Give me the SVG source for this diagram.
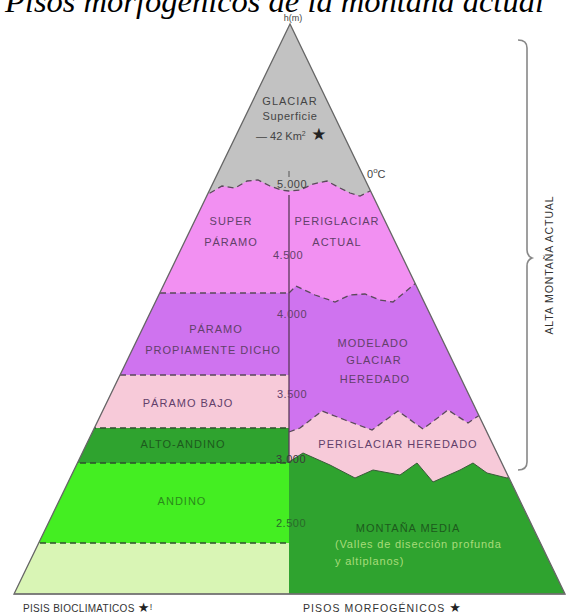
<svg xmlns="http://www.w3.org/2000/svg" width="566" height="616" viewBox="0 0 566 616">
<style>
.t{font-family:"Liberation Sans",Arial,sans-serif;font-size:11px;text-anchor:middle;letter-spacing:1px}
.p{fill:#62406a}
.k{fill:#444444}
.gd{fill:#1d5a1d}
.n{font-size:11px;letter-spacing:0.5px}
.d{fill:none;stroke:#5a4a5a;stroke-width:1.3;stroke-dasharray:6 4}
.dg{fill:none;stroke:#2f4f2f;stroke-width:1.3;stroke-dasharray:6 4}
.star{font-family:"DejaVu Sans",sans-serif}
</style>
<defs>
<clipPath id="tri"><polygon points="290,24 14,594 565,594"/></clipPath>
</defs>
<rect width="566" height="616" fill="#ffffff"/>
<text x="5" y="12" font-family="Liberation Serif, serif" font-style="italic" font-size="32.5" fill="#000">Pisos morfogénicos de la montaña actual</text>
<text x="293" y="21" class="t k" style="font-size:9px;letter-spacing:0">h(m)</text>

<g clip-path="url(#tri)">
<g id="glaciar"><rect x="0" y="0" width="566" height="600" fill="#c2c2c2"/></g>
<g id="super-paramo-periglaciar-actual"><path d="M0 196 L200 196 L210 193 L222 186 L235 188 L247 181 L258 180 L270 186 L281 190 L289 191 L300 190 L313 184 L327 181 L338 187 L350 193 L360 196 L368 192 L380 186 L566 186 L566 600 L0 600 Z" fill="#f290f2"/></g>
<g id="paramo-propiamente-dicho"><rect x="0" y="293" width="289" height="82" fill="#cf73ef"/></g>
<g id="paramo-bajo"><rect x="0" y="375" width="289" height="53" fill="#f7cad9"/></g>
<g id="alto-andino"><rect x="0" y="428" width="289" height="35" fill="#2fa32f"/></g>
<g id="andino"><rect x="0" y="463" width="289" height="80" fill="#44ee22"/></g>
<g id="piso-inferior"><rect x="0" y="543" width="289" height="51" fill="#d9f5b5"/></g>
<g id="modelado-glaciar-heredado"><path d="M289 293 L296 286 L315 295 L335 302 L350 295 L365 294 L380 300 L393 302 L405 292 L416 283 L566 283 L566 600 L289 600 Z" fill="#cf73ef"/></g>
<g id="periglaciar-heredado"><path d="M289 432 L300 428 L322 411 L345 420 L372 430 L398 411 L423 429 L448 410 L468 423 L490 408 L566 408 L566 600 L289 600 Z" fill="#f7cad9"/></g>
<g id="montana-media"><path d="M289 462 L303 453 L330 465 L355 478 L373 470 L400 475 L417 463 L433 482 L460 470 L473 463 L487 473 L507 478 L520 473 L566 470 L566 600 L289 600 Z" fill="#2fa32f"/></g>
<g id="connectors">
<path class="d" d="M200 196 L210 193 L222 186 L235 188 L247 181 L258 180 L270 186 L281 190 L289 191 L300 190 L313 184 L327 181 L338 187 L350 193 L360 196 L368 192 L380 186"/>
<line class="d" x1="0" y1="293" x2="289" y2="293"/>
<line class="d" x1="0" y1="375" x2="289" y2="375"/>
<line class="dg" x1="0" y1="428" x2="289" y2="428"/>
<line class="dg" x1="0" y1="463" x2="289" y2="463"/>
<line class="dg" x1="0" y1="543" x2="289" y2="543"/>
<path class="d" d="M289 293 L296 286 L315 295 L335 302 L350 295 L365 294 L380 300 L393 302 L405 292 L416 283"/>
<path class="d" d="M289 432 L300 428 L322 411 L345 420 L372 430 L398 411 L423 429 L448 410 L468 423 L490 408"/>
<path d="M289 462 L303 453 L330 465 L355 478 L373 470 L400 475 L417 463 L433 482 L460 470 L473 463 L487 473 L507 478 L520 473" fill="none" stroke="#3a5a3a" stroke-width="1"/>
<line x1="289" y1="195" x2="289" y2="463" stroke="#5a3a5a" stroke-width="1.3"/>
</g>
</g>
<polygon points="290,24 14,594 565,594" fill="none" stroke="#666666" stroke-width="1.3"/>
<line x1="289" y1="171" x2="289" y2="177" stroke="#555" stroke-width="1"/>

<g id="labels-glaciar">
<text x="290" y="105" class="t k">GLACIAR</text>
<text x="290" y="120" class="t k" style="letter-spacing:0.6px">Superficie</text>
<text x="256" y="140" class="t k" style="text-anchor:start;letter-spacing:0">— 42 Km<tspan dy="-4" font-size="7">2</tspan><tspan dy="4" class="star" font-size="17" fill="#222"> ★</tspan></text>
<text x="367" y="178" class="t k" style="text-anchor:start;letter-spacing:0">0<tspan dy="-5" font-size="8">o</tspan><tspan dy="5">C</tspan></text>
<text x="292" y="188" class="t n k">5.000</text>
</g>
<g id="labels-pink">
<text x="231" y="225" class="t p">SUPER</text>
<text x="231" y="246" class="t p">PÁRAMO</text>
<text x="337" y="225" class="t p">PERIGLACIAR</text>
<text x="337" y="246" class="t p">ACTUAL</text>
<text x="288" y="259" class="t n p">4.500</text>
</g>
<g id="labels-purple">
<text x="292" y="318" class="t n p">4.000</text>
<text x="216" y="333" class="t p">PÁRAMO</text>
<text x="213" y="354" class="t p">PROPIAMENTE DICHO</text>
<text x="373" y="347" class="t p">MODELADO</text>
<text x="374" y="364" class="t p">GLACIAR</text>
<text x="375" y="383" class="t p">HEREDADO</text>
<text x="292" y="398" class="t n p">3.500</text>
<text x="188" y="407" class="t p">PÁRAMO BAJO</text>
</g>
<g id="labels-green">
<text x="183" y="448" class="t gd">ALTO-ANDINO</text>
<text x="398" y="448" class="t p">PERIGLACIAR HEREDADO</text>
<text x="291" y="463" class="t n" fill="#3a3a3a">3.000</text>
<text x="182" y="505" class="t" fill="#2a8a1a">ANDINO</text>
<text x="291" y="527" class="t n" fill="#2a6a2a">2.500</text>
<text x="408" y="532" class="t gd">MONTAÑA MEDIA</text>
<text x="335" y="548" class="t" style="text-anchor:start;letter-spacing:0.8px" fill="#a8dc7a">(Valles de disección profunda</text>
<text x="335" y="565" class="t" style="text-anchor:start;letter-spacing:0.8px" fill="#a8dc7a">y altiplanos)</text>
</g>
<g id="brace">
<path d="M518 40 Q527 40 527 48 L527 250 Q527 256 532 258 Q527 260 527 266 L527 462 Q527 470 518 470" fill="none" stroke="#888888" stroke-width="1.6"/>
<text x="553" y="265" class="t" transform="rotate(-90 553 265)" style="font-size:10.5px;letter-spacing:0.9px" fill="#333">ALTA MONTAÑA ACTUAL</text>
</g>
<line x1="14" y1="594" x2="565" y2="594" stroke="#777" stroke-width="1.2"/>
<text x="23" y="612" class="t" style="text-anchor:start;font-size:10px;letter-spacing:0.3px" fill="#333">PISIS BIOCLIMATICOS <tspan class="star" font-size="13" fill="#222">★</tspan><tspan font-size="9" dy="-2">!</tspan></text>
<text x="303" y="612" class="t" style="text-anchor:start;font-size:10.5px;letter-spacing:1.1px" fill="#333">PISOS MORFOGÉNICOS <tspan class="star" font-size="13" fill="#222">★</tspan></text>
</svg>
